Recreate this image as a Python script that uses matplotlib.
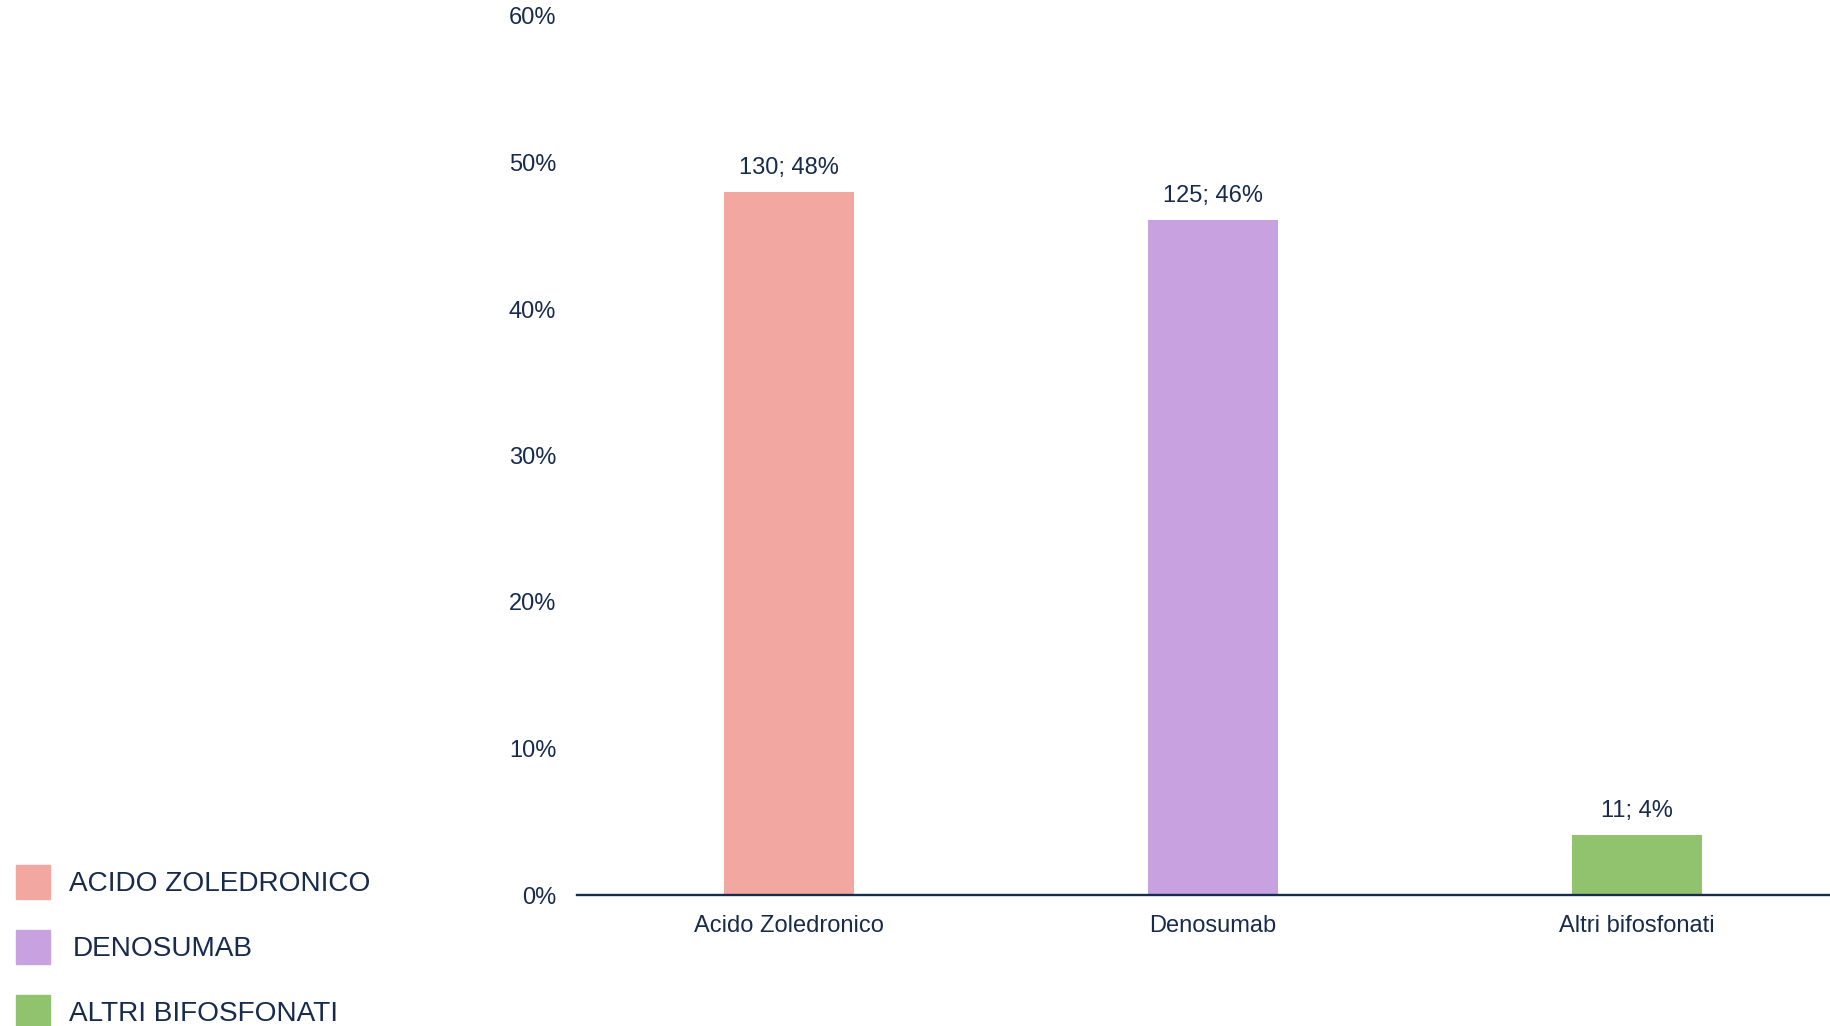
import matplotlib.pyplot as plt
from matplotlib.patches import Rectangle
from matplotlib.ticker import FuncFormatter

# Data
categories = ["Acido Zoledronico", "Denosumab", "Altri bifosfonati"]
counts = [130, 125, 11]
percents = [48.0, 46.1, 4.1]
labels = ["130; 48%", "125; 46%", "11; 4%"]
legend_labels = ["ACIDO ZOLEDRONICO", "DENOSUMAB", "ALTRI BIFOSFONATI"]
colors = ["#F2A7A0", "#C8A1E1", "#91C36F"]

TEXT = "#172B4D"
W, H = 1830, 1026

plt.rcParams["font.family"] = ["Liberation Sans", "DejaVu Sans"]

fig = plt.figure(figsize=(W / 100, H / 100), dpi=100)
ax = fig.add_axes([577 / W, 1 - 895 / H, 1 - 577 / W, (895 - 16) / H])

x = range(len(categories))
bars = ax.bar(x, percents, width=0.307, color=colors)

for bar, lab in zip(bars, labels):
    ax.annotate(lab, (bar.get_x() + bar.get_width() / 2, bar.get_height()),
                xytext=(0, 17), textcoords="offset points",
                ha="center", va="center", fontsize=17, color=TEXT)

ax.set_xlim(-0.5, 2.455)
ax.set_ylim(0, 60)
ax.set_yticks(range(0, 61, 10))
ax.yaxis.set_major_formatter(FuncFormatter(lambda v, p: f"{v:.0f}%"))
ax.set_xticks(list(x))
ax.set_xticklabels(categories)
ax.tick_params(axis="both", length=0, labelsize=17, labelcolor=TEXT)
ax.tick_params(axis="y", pad=15)
ax.tick_params(axis="x", pad=14.5)

for side in ["left", "right", "top"]:
    ax.spines[side].set_visible(False)
ax.spines["bottom"].set_color(TEXT)
ax.spines["bottom"].set_linewidth(1.7)

# legend on the lower left, drawn by hand
for i, (lab, col) in enumerate(zip(legend_labels, colors)):
    top = 865 + 65 * i
    fig.add_artist(Rectangle((16 / W, 1 - (top + 34) / H), 34 / W, 34 / H,
                             transform=fig.transFigure, color=col))
    tx = 73 if i == 1 else 69
    fig.text(tx / W, 1 - (top + 19) / H, lab, fontsize=20.2, color=TEXT,
             va="center", ha="left")

fig.savefig("out.png", dpi=100)
